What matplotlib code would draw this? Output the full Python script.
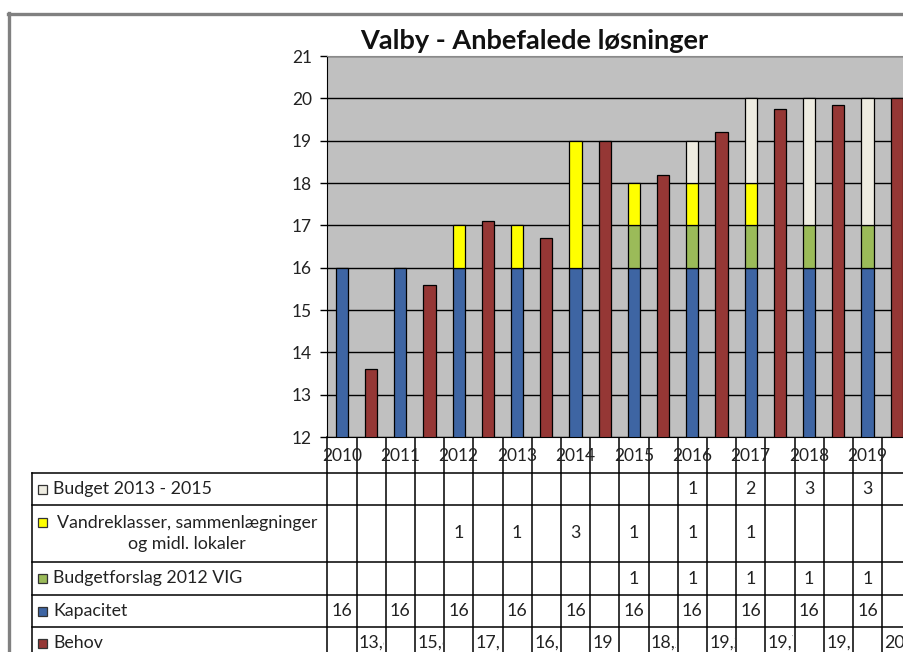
import numpy as np
import matplotlib.pyplot as plt
from matplotlib.patches import Rectangle
from matplotlib.transforms import blended_transform_factory

plt.rcParams['font.family'] = ['Lato', 'DejaVu Sans']

# data
years = ['2010', '2011', '2012', '2013', '2014', '2015', '2016', '2017', '2018', '2019']
kapacitet = [16, 16, 16, 16, 16, 16, 16, 16, 16, 16]
budgetforslag = [0, 0, 0, 0, 0, 1, 1, 1, 1, 1]
vandreklasser = [0, 0, 1, 1, 3, 1, 1, 1, 0, 0]
budget_1315 = [0, 0, 0, 0, 0, 0, 1, 2, 3, 3]
behov = [13.6, 15.6, 17.1, 16.7, 19, 18.2, 19.2, 19.75, 19.85, 20]

row_labels = ['Budget 2013 - 2015', 'Vandreklasser, sammenlægninger\nog midl. lokaler',
              'Budgetforslag 2012 VIG', 'Kapacitet', 'Behov']
row_colors = ['#EEECE1', '#FFFF00', '#9BBB59', '#3E65A3', '#953735']

W, H = 904, 652
fig = plt.figure(figsize=(W / 100, H / 100), dpi=100)

# background layer in pixel coordinates (frame + data table)
bg = fig.add_axes([0, 0, 1, 1])
bg.set_xlim(0, W)
bg.set_ylim(H, 0)
bg.axis('off')

# chart area
col_left, col_w = 327.3, 29.2
n_cols = 2 * len(years)
top_px, bot_px = 56, 437
ax = fig.add_axes([col_left / W, 1 - bot_px / H, n_cols * col_w / W, (bot_px - top_px) / H])
ax.set_facecolor('#C0C0C0')
ax.set_xlim(-0.5, n_cols - 0.5)
ax.set_ylim(12, 21)

x = np.arange(n_cols)
sx = x[0::2]
bx = x[1::2]
bw = 0.42

kap = np.array(kapacitet)
bfs = np.array(budgetforslag)
van = np.array(vandreklasser)
bud = np.array(budget_1315)

stack = [(kap, 0 * kap, row_colors[3]),
         (bfs, kap, row_colors[2]),
         (van, kap + bfs, row_colors[1]),
         (bud, kap + bfs + van, row_colors[0])]
for vals, base, c in stack:
    m = vals > 0
    ax.bar(sx[m], vals[m], bottom=base[m], width=bw, color=c, edgecolor='black', lw=0.9, zorder=2)
ax.bar(bx, behov, width=bw, color=row_colors[4], edgecolor='black', lw=0.9, zorder=2)

ax.set_yticks(range(12, 22))
ax.grid(axis='y', color='black', lw=1.0)
ax.set_axisbelow(True)
ax.tick_params(axis='y', direction='out', length=5, width=1, pad=6, labelsize=12.5, colors='black',
               labelcolor='#222222')
ax.set_xticks(sx)
ax.set_xticklabels(years)
ax.tick_params(axis='x', length=0, pad=8, labelsize=12.5, labelcolor='#222222')
for s in ['left', 'bottom']:
    ax.spines[s].set_color('black')
ax.spines['top'].set_color('#8a8a8a')
ax.spines['right'].set_visible(False)

fig.text(534 / W, 1 - 41 / H, 'Valby - Anbefalede løsninger', ha='center', va='center',
         fontsize=19.5, fontweight='bold', color='#111111')

# outer frame
bg.plot([8, W + 5], [13.5, 13.5], color='#808080', lw=2.4)
bg.plot([9.5, 9.5], [12.5, H + 5], color='#808080', lw=2.4)

# data table
row_edges = [473, 505, 562, 595, 627, 660]
tr = blended_transform_factory(ax.transData, bg.transData)
for y in row_edges:
    bg.plot([32, W + 5], [y, y], color='black', lw=1.1)
bg.plot([32, 32], [row_edges[0], H + 5], color='black', lw=1.1)
for i in range(n_cols + 1):
    bg.plot([i - 0.5, i - 0.5], [bot_px, H + 5], color='black', lw=1.1, transform=tr, clip_on=False)

fs = 12.8
for r, (lab, c) in enumerate(zip(row_labels, row_colors)):
    y0, y1 = row_edges[r], row_edges[r + 1]
    yc = (y0 + y1) / 2 if r < 4 else 643
    if '\n' in lab:
        bg.add_patch(Rectangle((38.5, yc - 15.5), 9, 9, facecolor=c, edgecolor='#333333', lw=0.9))
        bg.text(187, yc, lab, ha='center', va='center', fontsize=fs, color='#222222',
                linespacing=1.4)
    else:
        bg.add_patch(Rectangle((38.5, yc - 4.5), 9, 9, facecolor=c, edgecolor='#333333', lw=0.9))
        bg.text(53, yc, lab, ha='left', va='center', fontsize=fs, color='#222222')

table_rows = [bud, van, bfs, kap]
for r, vals in enumerate(table_rows):
    yc = (row_edges[r] + row_edges[r + 1]) / 2
    for xi, v in zip(sx, vals):
        if v > 0:
            bg.text(xi, yc, str(v), ha='center', va='center', fontsize=fs, color='#222222',
                    transform=tr)

# behov row, clipped to the cell like the original
for xi, v in zip(bx, behov):
    s = f'{v:g}'.replace('.', ',')
    t = bg.text(xi - 0.5 + 2.5 / col_w, 643, s, ha='left', va='center', fontsize=fs,
                color='#222222', transform=tr, clip_on=True)
    t.set_clip_path(Rectangle((xi - 0.5, 627), 1 - 1.5 / col_w, 40, transform=tr))

fig.savefig('out.png', dpi=100)
